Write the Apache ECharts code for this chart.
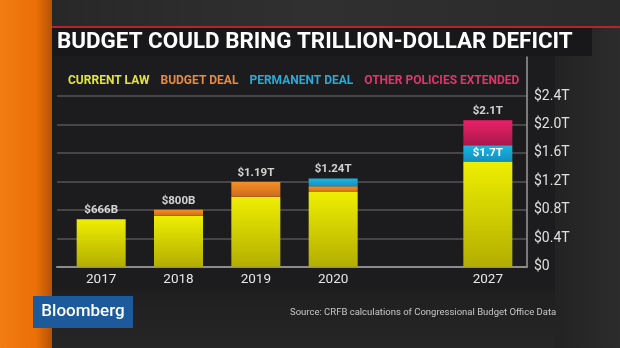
<!DOCTYPE html>
<html><head><meta charset="utf-8">
<script src="https://cdn.jsdelivr.net/npm/echarts@6/dist/echarts.min.js"></script>
<style>html,body{margin:0;padding:0;background:#1e1e1e;}#c{width:620px;height:348px;}</style>
</head><body><div id="c"></div>
<script>
// ---- data ----
var categories = ['2017', '2018', '2019', '2020', '', '2027'];   // empty slot between 2020 and 2027
var currentLaw = [0.666, 0.717, 0.985, 1.05, null, 1.48];
var budgetDeal = [0, 0.083, 0.205, 0.08, null, 0];
var permanentDeal = [0, 0, 0, 0.11, null, 0.23];
var otherPolicies = [0, 0, 0, 0, null, 0.35];
var totalLabels = ['$666B', '$800B', '$1.19T', '$1.24T', '', '$2.1T'];
var innerLabel2027 = '$1.7T';
var yTicks = [0, 0.4, 0.8, 1.2, 1.6, 2.0, 2.4];
var seriesNames = ['CURRENT LAW', 'BUDGET DEAL', 'PERMANENT DEAL', 'OTHER POLICIES EXTENDED'];

// ---- styles ----
var legendColors = ['#e2e43c', '#e98a3a', '#2aa9d6', '#e03569'];
function grad(top, bottom) {
  return new echarts.graphic.LinearGradient(0, 0, 0, 1, [{offset: 0, color: top}, {offset: 1, color: bottom}]);
}
var barFills = [grad('#eeee02', '#b3ae00'), grad('#f39026', '#cf6a1c'), grad('#1cb6e2', '#118fbf'), grad('#ea2168', '#a9184c')];
var FONT = 'Roboto, "Liberation Sans", Arial, sans-serif';
var Y_MAX = 2.95;

var allSeries = [currentLaw, budgetDeal, permanentDeal, otherPolicies];
var totals = categories.map(function (c, i) {
  if (currentLaw[i] == null) return null;
  return allSeries.reduce(function (s, a) { return s + a[i]; }, 0);
});

var chart = echarts.init(document.getElementById('c'), null, {renderer: 'canvas'});

var series = allSeries.map(function (arr, k) {
  var data = arr.map(function (v) { return v === 0 ? null : v; });
  if (k === 2) {
    data[5] = {value: data[5], label: {show: true, position: 'inside', formatter: innerLabel2027,
      color: '#fff', fontWeight: 'bold', fontSize: 11.5, fontFamily: FONT}};
  }
  return {
    name: seriesNames[k], type: 'bar', stack: 'total', barWidth: 49,
    xAxisIndex: 1, yAxisIndex: 1,
    itemStyle: {color: barFills[k]}, data: data, silent: true,
    emphasis: {disabled: true}
  };
});
series.push({
  type: 'scatter', symbolSize: 0, silent: true, xAxisIndex: 1, yAxisIndex: 1,
  data: totals,
  label: {show: true, position: 'top', distance: 3, color: '#fff', fontWeight: 'bold', fontSize: 11.5, fontFamily: FONT,
    formatter: function (p) { return totalLabels[p.dataIndex]; }}
});

var option = {
  backgroundColor: new echarts.graphic.LinearGradient(0, 0, 1, 0, [
    {offset: 0, color: '#1b1b1b'}, {offset: 0.9, color: '#232323'}, {offset: 1, color: '#2c2c2c'}]),
  animation: false,
  graphic: [
    {type: 'rect', z: -10, shape: {x: 0, y: 0, width: 620, height: 27}, style: {fill: new echarts.graphic.LinearGradient(0, 0, 1, 0, [{offset: 0, color: '#262626'}, {offset: 0.5, color: '#303030'}, {offset: 1, color: '#2a2a2a'}])}},
    {type: 'rect', z: -9, shape: {x: 47, y: 56, width: 508, height: 234}, style: {fill: '#1c1c1e'}},
    {type: 'rect', z: -9, shape: {x: 47, y: 290, width: 508, height: 58}, style: {fill: new echarts.graphic.LinearGradient(0, 0, 0, 1, [{offset: 0, color: '#1f1f1f'}, {offset: 1, color: '#262626'}])}},
    {type: 'rect', z: -8, shape: {x: 47, y: 28, width: 545, height: 28}, style: {fill: '#18181a'}},
    {type: 'rect', z: -7, shape: {x: 47, y: 26, width: 573, height: 2}, style: {fill: '#b8232a'}},
    {type: 'rect', z: -6, shape: {x: 0, y: 0, width: 52, height: 348}, style: {fill: new echarts.graphic.LinearGradient(0, 0, 1, 0, [{offset: 0, color: '#f27c12'}, {offset: 0.7, color: '#ea6f06'}, {offset: 1, color: '#b45206'}])}},
    {type: 'text', x: 57, y: 42, style: {text: 'BUDGET COULD BRING TRILLION-DOLLAR DEFICIT', fill: '#ffffff', font: 'bold 22.4px ' + FONT, verticalAlign: 'middle'}},
    {type: 'rect', shape: {x: 33, y: 296, width: 100, height: 32}, style: {fill: '#1d5a9b'}},
    {type: 'text', x: 83, y: 312, style: {text: 'Bloomberg', fill: '#ffffff', font: '500 17px ' + FONT, align: 'center', verticalAlign: 'middle'}},
    {type: 'text', x: 290, y: 313, style: {text: 'Source: CRFB calculations of Congressional Budget Office Data', fill: '#c8c8c8', font: '9.5px ' + FONT, verticalAlign: 'middle'}}
  ],
  legend: {
    left: 58, top: 70, icon: 'rect', itemWidth: 0, itemHeight: 0, itemGap: 6,
    selectedMode: false,
    textStyle: {fontSize: 12, fontWeight: 'bold', fontFamily: FONT},
    data: seriesNames.map(function (n, i) { return {name: n, textStyle: {color: legendColors[i]}}; })
  },
  grid: [
    {left: 57, right: 93, top: 57, bottom: 81.3},
    {left: 62.5, right: 93.5, top: 57, bottom: 81.3}
  ],
  xAxis: [
    {type: 'value', gridIndex: 0, min: 0, max: 1,
      axisLine: {show: true, onZero: false, lineStyle: {color: '#8c8c8c', width: 2}},
      axisTick: {show: false}, splitLine: {show: false}, axisLabel: {show: false}},
    {type: 'category', gridIndex: 1, data: categories,
      axisLine: {show: false}, axisTick: {show: false}, splitLine: {show: false},
      axisLabel: {color: '#e6e6e6', fontSize: 13.5, fontFamily: FONT, margin: 6, interval: 0}}
  ],
  yAxis: [
    {type: 'value', gridIndex: 0, position: 'right', min: 0, max: Y_MAX, interval: 0.4,
      axisLine: {show: true, onZero: false, lineStyle: {color: '#9a9a9a', width: 1.5}},
      axisTick: {show: false},
      splitLine: {show: true, lineStyle: {color: ['#555', '#555', '#555', '#555', '#555', '#555', '#555', 'rgba(0,0,0,0)', 'rgba(0,0,0,0)'], width: 1.5}},
      axisLabel: {color: '#e0e0e0', fontSize: 14, fontFamily: FONT, margin: 7,
        formatter: function (v) {
          var idx = yTicks.findIndex(function (t) { return Math.abs(t - v) < 1e-6; });
          if (idx < 0) return '';
          return v === 0 ? '$0' : '$' + yTicks[idx].toFixed(1) + 'T';
        }}},
    {type: 'value', gridIndex: 1, min: 0, max: Y_MAX, show: false, splitLine: {show: false}}
  ],
  series: series
};
chart.setOption(option);
</script>
</body></html>
